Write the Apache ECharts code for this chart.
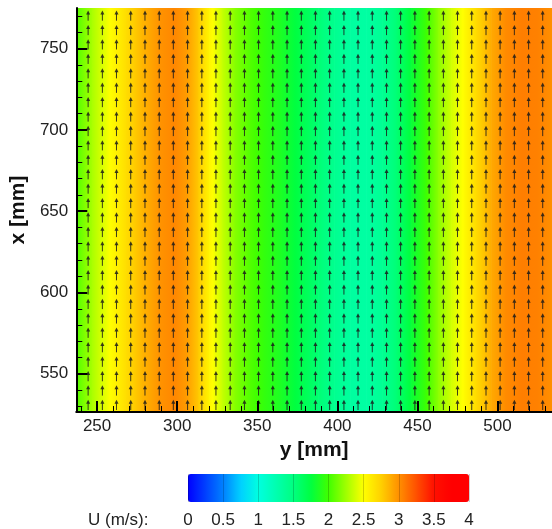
<!DOCTYPE html>
<html><head><meta charset="utf-8">
<script src="https://cdn.jsdelivr.net/npm/echarts@6/dist/echarts.min.js"></script>
<style>html,body{margin:0;padding:0;background:#fff}#c{width:552px;height:529px}</style>
</head><body><div id="c"></div>
<script>
// ---- data ----
// U (m/s) profile across y [mm] (field is uniform along x)
const profileY = [237, 247, 258, 268, 278, 288, 298, 306, 313, 320, 328, 336, 345, 354, 365, 376, 388, 398, 408, 418, 428, 437, 446, 455, 463, 471, 479, 487, 496, 505, 515, 525, 534];
const profileU = [2.05, 2.28, 2.5, 2.68, 2.85, 2.98, 3.04, 2.95, 2.78, 2.55, 2.35, 2.18, 2.05, 1.95, 1.85, 1.72, 1.55, 1.42, 1.34, 1.32, 1.4, 1.55, 1.78, 1.98, 2.2, 2.38, 2.52, 2.7, 2.9, 3.02, 3.07, 3.06, 3.0];
// vector grid (y positions, x positions of arrow tails) in mm
const arrowCols = [244.4, 253.3, 262.1, 271.0, 279.9, 288.8, 297.6, 306.5, 315.4, 324.2, 333.1, 342.0, 350.8, 359.7, 368.6, 377.5, 386.3, 395.2, 404.1, 412.9, 421.8, 430.7, 439.5, 448.4, 457.3, 466.2, 475.0, 483.9, 492.8, 501.6, 510.5, 519.4, 528.2];
const arrowRows = [527.7, 536.6, 545.4, 554.3, 563.2, 572.1, 580.9, 589.8, 598.7, 607.5, 616.4, 625.3, 634.1, 643.0, 651.9, 660.8, 669.6, 678.5, 687.4, 696.2, 705.1, 714.0, 722.8, 731.7, 740.6, 749.5, 758.3, 767.2];
const arrowLen = 6.3; // mm, vectors point in +x
// ticks
const xMajorTicks = [250, 300, 350, 400, 450, 500];
const xMinorTicks = [240, 260, 270, 280, 290, 310, 320, 330, 340, 360, 370, 380, 390, 410, 420, 430, 440, 460, 470, 480, 490, 510, 520, 530];
const yMajorTicks = [550, 600, 650, 700, 750];
const yMinorTicks = [530, 540, 560, 570, 580, 590, 610, 620, 630, 640, 660, 670, 680, 690, 710, 720, 730, 740, 760, 770];
const cbTicks = [0, 0.5, 1, 1.5, 2, 2.5, 3, 3.5, 4];
const cbMin = 0, cbMax = 4;
const cbColors = ['#0000ff', '#0040ff', '#0080ff', '#00d0ff', '#00ffe0', '#00ffb0', '#00ff80', '#00ff40', '#40ff00', '#a0ff00', '#ffff00', '#ffd000', '#ff9000', '#ff5000', '#ff1000', '#ff0000', '#ff0000'];
const xRange = [237, 534], yRange = [526.5, 775];

// ---- helpers ----
function hex(c){ return [parseInt(c.substr(1,2),16), parseInt(c.substr(3,2),16), parseInt(c.substr(5,2),16)]; }
function cmap(u){
  const n = cbColors.length - 1;
  const t = Math.max(0, Math.min(1, (u - cbMin) / (cbMax - cbMin))) * n;
  const i = Math.min(Math.floor(t), n - 1), f = t - i;
  const a = hex(cbColors[i]), b = hex(cbColors[i + 1]);
  return 'rgb(' + a.map((v, k) => Math.round(v + (b[k] - v) * f)).join(',') + ')';
}
const stopVals = cbColors.map((c, k) => cbMin + k * (cbMax - cbMin) / (cbColors.length - 1));

const fieldData = [];
for (let i = 0; i < profileY.length - 1; i++) fieldData.push([profileY[i], profileY[i + 1], profileU[i], profileU[i + 1]]);
const arrowData = [];
arrowCols.forEach(c => arrowRows.forEach(r => arrowData.push([c, r])));

const font = 'Liberation Sans, Arial, sans-serif';
const chart = echarts.init(document.getElementById('c'), null, {renderer: 'canvas'});
const axisBase = {
  z: 10, splitLine: {show: false}
};
chart.setOption({
  animation: false,
  backgroundColor: '#fff',
  grid: [
    {left: 73, right: -4, top: 8, bottom: 117},
    {left: 188, width: 281, top: 474, height: 28}
  ],
  xAxis: [
    Object.assign({}, axisBase, {type: 'value', gridIndex: 0, position: 'bottom', min: xRange[0], max: xRange[1],
      name: 'y [mm]', nameLocation: 'middle', nameGap: 19,
      nameTextStyle: {fontFamily: font, fontWeight: 'bold', fontSize: 21, color: '#111'},
      axisLine: {show: true, onZero: false, lineStyle: {color: '#000', width: 2}},
      axisTick: {show: true, inside: true, length: 11, customValues: xMajorTicks, lineStyle: {color: '#000', width: 2}},
      axisLabel: {customValues: xMajorTicks, fontFamily: font, fontSize: 17, color: '#222', margin: 6}
    }),
    Object.assign({}, axisBase, {type: 'value', gridIndex: 0, position: 'bottom', offset: 0, min: xRange[0], max: xRange[1],
      axisLine: {show: false},
      axisTick: {show: true, inside: true, length: 6, customValues: xMinorTicks, lineStyle: {color: '#000', width: 1}},
      axisLabel: {show: false}
    }),
    {type: 'value', gridIndex: 1, min: cbMin, max: cbMax, interval: 0.5, z: 10,
      axisLine: {show: false}, axisTick: {show: false},
      splitLine: {show: true, lineStyle: {color: 'rgba(0,0,0,0.18)', width: 1}},
      axisLabel: {customValues: cbTicks, fontFamily: font, fontSize: 17, color: '#222', margin: 10}
    }
  ],
  yAxis: [
    Object.assign({}, axisBase, {type: 'value', gridIndex: 0, position: 'left', min: yRange[0], max: yRange[1],
      name: 'x [mm]', nameLocation: 'middle', nameGap: 40,
      nameTextStyle: {fontFamily: font, fontWeight: 'bold', fontSize: 21, color: '#111'},
      axisLine: {show: true, onZero: false, lineStyle: {color: '#000', width: 2}},
      axisTick: {show: true, inside: true, length: 11, customValues: yMajorTicks, lineStyle: {color: '#000', width: 2}},
      axisLabel: {customValues: yMajorTicks, fontFamily: font, fontSize: 17, color: '#222', margin: 8}
    }),
    Object.assign({}, axisBase, {type: 'value', gridIndex: 0, position: 'left', offset: 0, min: yRange[0], max: yRange[1],
      axisLine: {show: false},
      axisTick: {show: true, inside: true, length: 6, customValues: yMinorTicks, lineStyle: {color: '#000', width: 1}},
      axisLabel: {show: false}
    }),
    {type: 'value', gridIndex: 1, min: 0, max: 1, show: false}
  ],
  visualMap: {
    type: 'continuous', min: cbMin, max: cbMax, orient: 'horizontal',
    left: 188, top: 474, itemHeight: 281, itemWidth: 28, padding: 0,
    calculable: false, hoverLink: false, seriesIndex: 0, dimension: 2, z: 2,
    inRange: {color: cbColors}
  },
  graphic: [{type: 'text', left: 88, top: 512, z: 20,
    style: {text: 'U (m/s):', font: '17px ' + font, fill: '#222'}}],
  series: [
    {
      type: 'custom', xAxisIndex: 0, yAxisIndex: 0, clip: true, z: 2, silent: true,
      data: fieldData,
      renderItem: function (params, api) {
        const y0 = api.value(0), y1 = api.value(1), u0 = api.value(2), u1 = api.value(3);
        const pA = api.coord([y0, yRange[1]]);
        const pB = api.coord([y1, yRange[0]]);
        const stops = [{offset: 0, color: cmap(u0)}];
        const lo = Math.min(u0, u1), hi = Math.max(u0, u1);
        const mids = stopVals.filter(s => s > lo && s < hi).map(s => ({offset: (s - u0) / (u1 - u0), color: cmap(s)}));
        mids.sort((a, b) => a.offset - b.offset);
        stops.push(...mids, {offset: 1, color: cmap(u1)});
        return {
          type: 'rect',
          shape: {x: pA[0], y: pA[1], width: pB[0] - pA[0] + 0.7, height: pB[1] - pA[1]},
          style: {fill: new echarts.graphic.LinearGradient(0, 0, 1, 0, stops)}
        };
      }
    },
    {
      type: 'custom', xAxisIndex: 0, yAxisIndex: 0, clip: true, z: 3, silent: true,
      data: arrowData,
      renderItem: function (params, api) {
        const p0 = api.coord([api.value(0), api.value(1)]);
        const p1 = api.coord([api.value(0), api.value(1) + arrowLen]);
        const hl = 4, hw = 2;
        return {
          type: 'group',
          children: [
            {type: 'line', shape: {x1: p0[0], y1: p0[1], x2: p1[0], y2: p1[1] + hl - 0.5},
              style: {stroke: '#1a1a1a', lineWidth: 1, opacity: 0.85}},
            {type: 'polygon', shape: {points: [[p1[0], p1[1]], [p1[0] - hw, p1[1] + hl], [p1[0] + hw, p1[1] + hl]]},
              style: {fill: '#1a1a1a', opacity: 0.85}}
          ]
        };
      }
    }
  ]
});
</script></body></html>
